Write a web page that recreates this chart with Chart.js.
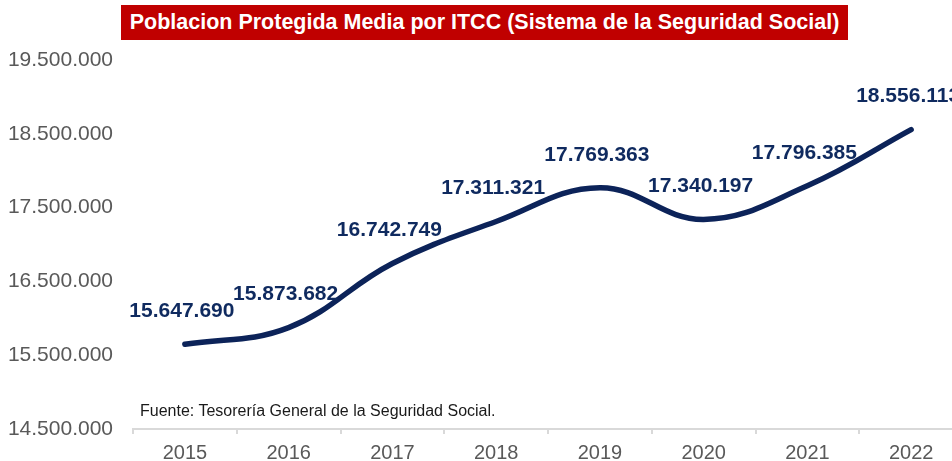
<!DOCTYPE html>
<html>
<head>
<meta charset="utf-8">
<script src="https://cdn.jsdelivr.net/npm/chart.js@4"></script>
<style>
    html, body { margin: 0; padding: 0; background: #fff; overflow: hidden; }
    #wrap { position: relative; width: 963px; height: 461px; }
    #titulo {
        position: absolute; left: 121px; top: 5px; width: 727px; height: 35px;
        background: #c00000; color: #fff;
        font: bold 21.5px "Liberation Sans", Arial, sans-serif;
        line-height: 35px; text-align: center; white-space: nowrap;
    }
    #fuente {
        position: absolute; left: 140px; top: 402px;
        font: 16px "Liberation Sans", Arial, sans-serif; color: #1a1a1a;
    }
</style>
</head>
<body>
<div id="wrap">
    <canvas id="chartPoblacion" width="963" height="461"></canvas>
    <div id="titulo">Poblacion Protegida Media por ITCC (Sistema de la Seguridad Social)</div>
    <div id="fuente">Fuente: Tesorería General de la Seguridad Social.</div>
</div>
<script>
const anios = ['2015', '2016', '2017', '2018', '2019', '2020', '2021', '2022'];
const poblacion = [15647690, 15873682, 16742749, 17311321, 17769363, 17340197, 17796385, 18556113];
const yMin = 14500000;
const yMax = 19500000;
const yStep = 1000000;

// 15647690 -> 15.647.690
function fmtMiles(v) {
    return String(Math.round(v)).replace(/\B(?=(\d{3})+(?!\d))/g, '.');
}

const etiquetasPlugin = {
    id: 'etiquetas',
    afterDatasetsDraw(chart) {
        const ctx = chart.ctx;
        const meta = chart.getDatasetMeta(0);
        ctx.save();
        ctx.font = 'bold 21px "Liberation Sans", Arial, sans-serif';
        ctx.fillStyle = '#0f2a5f';
        ctx.textAlign = 'center';
        ctx.textBaseline = 'middle';
        meta.data.forEach((pt, i) => {
            ctx.fillText(fmtMiles(poblacion[i]), pt.x - 3, pt.y - 33);
        });
        ctx.restore();
    }
};

const ctx = document.getElementById('chartPoblacion').getContext('2d');
new Chart(ctx, {
    type: 'line',
    data: {
        labels: anios,
        datasets: [{
            data: poblacion,
            borderColor: '#0c2359',
            borderWidth: 5.5,
            borderCapStyle: 'round',
            tension: 0.4,
            pointRadius: 0,
            fill: false
        }]
    },
    options: {
        responsive: false,
        animation: false,
        layout: { padding: { top: 60, left: 0, right: 0, bottom: 0 } },
        plugins: {
            legend: { display: false },
            tooltip: { enabled: false },
            title: { display: false }
        },
        scales: {
            y: {
                min: yMin,
                max: yMax,
                afterFit: s => { s.width = 133; },
                grid: { display: false },
                border: { display: false },
                ticks: {
                    stepSize: yStep,
                    padding: 12,
                    color: '#595959',
                    font: { family: '"Liberation Sans", Arial, sans-serif', size: 21 },
                    callback: v => fmtMiles(v)
                }
            },
            x: {
                offset: true,
                afterFit: s => { s.height = 32; },
                grid: {
                    offset: true,
                    drawOnChartArea: false,
                    tickLength: 5,
                    color: '#d9d9d9',
                    lineWidth: 2
                },
                border: { display: true, color: '#d9d9d9', width: 2 },
                ticks: {
                    padding: 7,
                    color: '#595959',
                    font: { family: '"Liberation Sans", Arial, sans-serif', size: 20 }
                }
            }
        }
    },
    plugins: [etiquetasPlugin]
});
</script>
</body>
</html>
